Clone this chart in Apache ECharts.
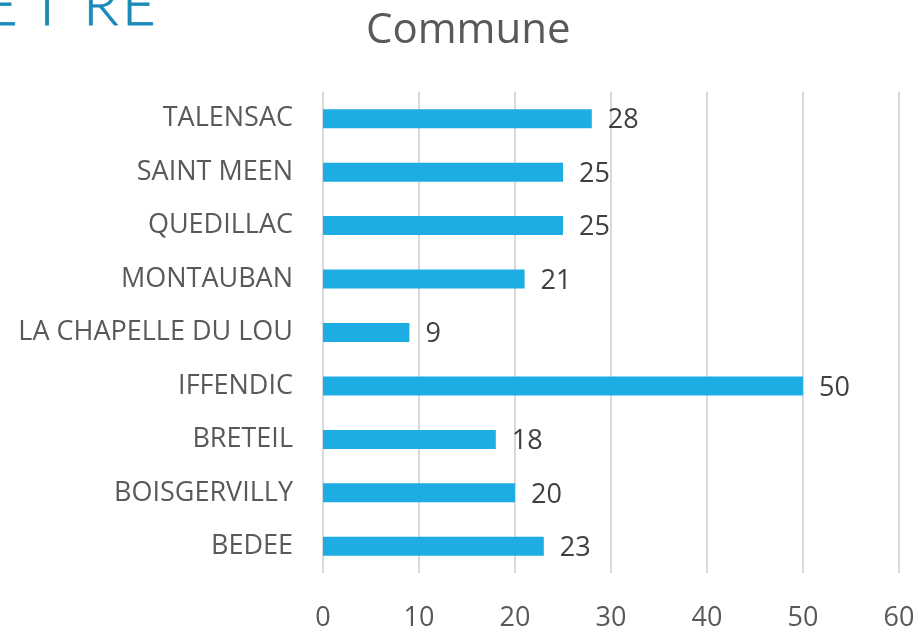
<!DOCTYPE html>
<html lang="fr">
<head>
    <meta charset="UTF-8">
    <title>Commune</title>
    <script src="https://cdn.jsdelivr.net/npm/echarts@6/dist/echarts.min.js"></script>
    <style>
        *{
            padding: 0;
            margin: 0;
        }
        #chart{
            width: 921px;
            height: 627px;
            background: #ffffff;
        }
    </style>
</head>
<body>
<div id="chart"></div>
<script>
    // données (du bas vers le haut)
    var communes = ['BEDEE', 'BOISGERVILLY', 'BRETEIL', 'IFFENDIC', 'LA CHAPELLE DU LOU', 'MONTAUBAN', 'QUEDILLAC', 'SAINT MEEN', 'TALENSAC'];
    var effectifs = [23, 20, 18, 50, 9, 21, 25, 25, 28];
    var xTicks = [0, 10, 20, 30, 40, 50, 60];

    var font = '"Open Sans", "Noto Sans", sans-serif';
    var logoFont = '300 58px Lato, sans-serif';
    var my_chart = echarts.init(document.getElementById('chart'));

    my_chart.setOption({
        backgroundColor: '#ffffff',
        animation: false,
        title: {
            text: 'Commune',
            left: 366,
            top: 10,
            padding: 0,
            textStyle: {
                fontFamily: font,
                fontSize: 42,
                fontWeight: 400,
                color: '#595959'
            }
        },
        // bout du logo coupé en haut à gauche
        graphic: [{
            type: 'text',
            right: 903,
            top: -23,
            style: {
                text: 'E',
                font: logoFont,
                fill: '#1a8ab8',
                stroke: '#1a8ab8',
                lineWidth: 0.8
            }
        }, {
            type: 'text',
            right: 765,
            top: -23,
            style: {
                text: 'T \u200aR\u200aE',
                font: logoFont,
                fill: '#1a8ab8',
                stroke: '#1a8ab8',
                lineWidth: 0.8
            }
        }],
        grid: {
            left: 323,
            right: 22,
            top: 92,
            bottom: 54,
            outerBoundsMode: 'none'
        },
        xAxis: {
            type: 'value',
            min: xTicks[0],
            max: xTicks[xTicks.length - 1],
            interval: 10,
            axisLine: {show: false},
            axisTick: {show: false},
            splitLine: {
                show: true,
                lineStyle: {color: '#d9d9d9', width: 2}
            },
            axisLabel: {
                margin: 32,
                fontFamily: font,
                fontSize: 27,
                color: '#595959'
            }
        },
        yAxis: {
            type: 'category',
            data: communes,
            axisLine: {show: false},
            axisTick: {show: false},
            axisLabel: {
                margin: 30,
                fontFamily: font,
                fontSize: 27,
                color: '#595959'
            }
        },
        series: [{
            type: 'bar',
            data: effectifs,
            barWidth: 19,
            itemStyle: {
                color: '#1eade3'
            },
            label: {
                show: true,
                position: 'right',
                distance: 16,
                offset: [0, 2],
                fontFamily: font,
                fontSize: 27,
                color: '#404040'
            }
        }]
    });
</script>
</body>
</html>
